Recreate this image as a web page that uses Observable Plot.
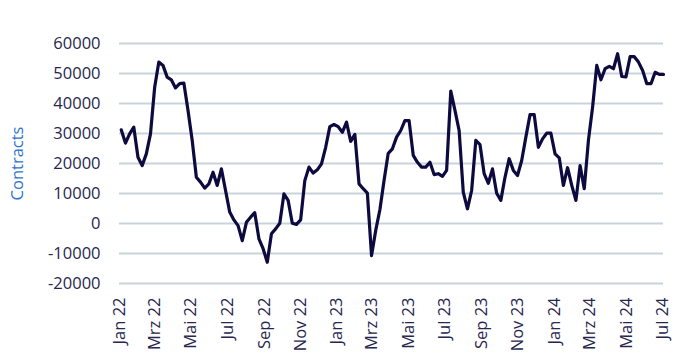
<!DOCTYPE html>
<html>
<head>
<meta charset="utf-8">
<script src="https://cdn.jsdelivr.net/npm/d3@7"></script>
<script src="https://cdn.jsdelivr.net/npm/@observablehq/plot@0.6"></script>
<style>
  html, body { margin: 0; padding: 0; background: #ffffff; }
  #chart svg [aria-label="y-axis label"] text,
  #chart svg [aria-label="y-axis label"] { fill: #2e74d3; }
</style>
</head>
<body>
<div id="chart"></div>
<script>
// Weekly series, first observation
const startDate = "2022-01-04";
// Net position (contracts), one value per week
const values = [
  31200, 26800, 29900, 32100, 22100, 19300, 23200, 29900, 45400, 53800,
  52700, 48800, 47900, 45200, 46600, 46800, 37700, 27700, 15400, 13800,
  11800, 13200, 17100, 12700, 18200, 11000, 3800, 1200, -700, -5700,
  400, 2100, 3600, -5100, -8400, -12900, -3400, -1800, 100, 9900,
  7700, 100, -300, 1200, 14300, 18800, 16800, 17900, 19900, 25400,
  32300, 33000, 32300, 30400, 33800, 27400, 29700, 13200, 11600, 10100,
  -10700, -2300, 4600, 14300, 23400, 24900, 28800, 31000, 34300, 34300,
  22700, 20400, 18800, 18800, 20400, 16300, 16600, 15700, 17700,
  44100, 37700, 31000, 10400, 4900, 11000, 27700, 26300, 16600, 13400,
  18200, 10100, 7700, 15400, 21600, 17700, 16000, 21000, 28800, 36300,
  36300, 25400, 28200, 30100, 30100, 23200, 21900, 12700, 18600, 12700,
  7700, 19300, 11600, 27700, 38800, 52700, 47900, 51600, 52400, 51600,
  56600, 49000, 48900, 55600, 55600, 53800, 51000, 46600, 46600, 50400,
  49700, 49700
];
// Axis ticks
const yTicks = [-20000, -10000, 0, 10000, 20000, 30000, 40000, 50000, 60000];
const monthNames = ["Jan", "Feb", "Mrz", "Apr", "Mai", "Jun", "Jul", "Aug", "Sep", "Okt", "Nov", "Dez"];
const axisStart = "2022-01-01";
const axisEnd = "2024-07-02";

const t0 = new Date(startDate + "T00:00:00Z");
const data = values.map((v, i) => ({ date: d3.utcDay.offset(t0, 7 * i), value: v }));
const domainX = [new Date(axisStart + "T00:00:00Z"), new Date(axisEnd + "T00:00:00Z")];
const xTicks = d3.utcMonth.every(2).range(domainX[0], d3.utcDay.offset(domainX[1], 1));
const fmtX = d => monthNames[d.getUTCMonth()] + " " + String(d.getUTCFullYear()).slice(2);

const chart = Plot.plot({
  width: 683,
  height: 360,
  marginLeft: 119,
  marginRight: 20,
  marginTop: 43,
  marginBottom: 77,
  style: { fontFamily: "'Open Sans', sans-serif", fontSize: "16.5px", color: "#27264f", background: "#ffffff" },
  x: { type: "utc", domain: domainX },
  y: { domain: [-20000, 60000] },
  marks: [
    Plot.gridY(yTicks, { stroke: "#c8d3dc", strokeOpacity: 1, strokeWidth: 2 }),
    Plot.axisY(yTicks, {
      tickSize: 0, tickPadding: 19, tickFormat: d => String(d),
      label: "Contracts", labelAnchor: "center", labelOffset: 108, labelArrow: "none"
    }),
    Plot.axisX(xTicks, { tickSize: 0, tickPadding: 14, tickRotate: -90, tickFormat: fmtX, label: null }),
    Plot.line(data, { x: "date", y: "value", stroke: "#0c0a3e", strokeWidth: 3.2, strokeLinejoin: "round" })
  ]
});
document.getElementById("chart").appendChild(chart);
</script>
</body>
</html>
